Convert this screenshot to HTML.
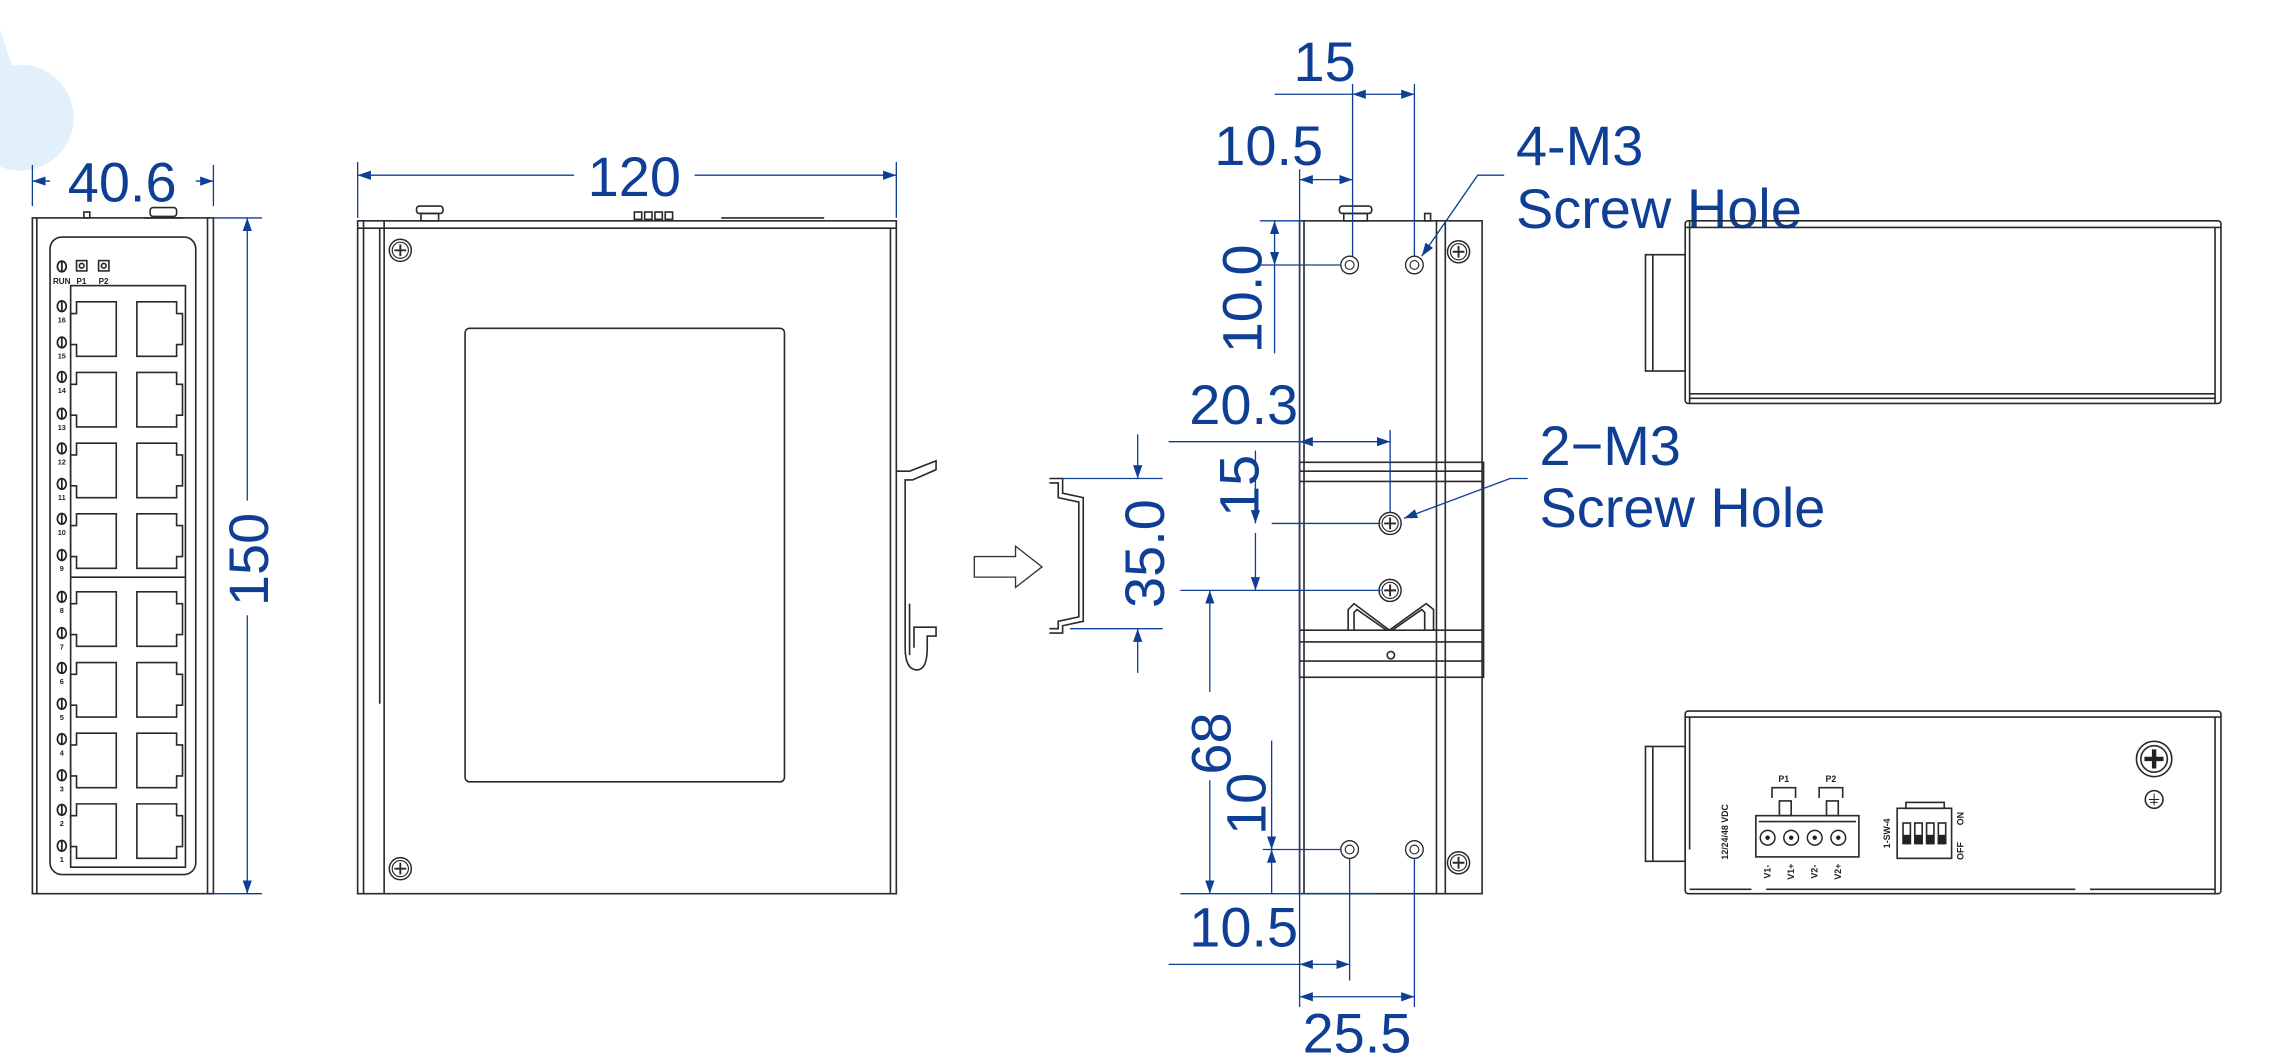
<!DOCTYPE html>
<html><head><meta charset="utf-8"><style>
html,body{margin:0;padding:0;background:#fff;}
svg{display:block;}
.d{stroke:#0f3f95;stroke-width:0.9;fill:none;}
.t{fill:#0f3f95;font-family:"Liberation Sans",sans-serif;font-size:38px;}
.k{stroke:#2a2a2a;stroke-width:1.1;fill:none;}
.s{font-family:"Liberation Sans",sans-serif;fill:#222;font-weight:bold;}
</style></head><body>
<svg width="2296" height="1063" viewBox="0 0 1560 722" preserveAspectRatio="none" xmlns="http://www.w3.org/2000/svg">
<defs>
<marker id="a" viewBox="0 0 10 10" refX="10" refY="5" markerWidth="9" markerHeight="9" markerUnits="userSpaceOnUse" orient="auto-start-reverse"><path d="M0,1.5 L10,5 L0,8.5 Z" fill="#0f3f95"/></marker>
<g id="scr"><circle r="7.5" fill="#fff" stroke="#2a2a2a" stroke-width="1"/><circle r="5.5" fill="none" stroke="#2a2a2a" stroke-width="0.8"/><path d="M-4,0 H4 M0,-4 V4" stroke="#2a2a2a" stroke-width="1.3"/></g>
<g id="hole"><circle r="6" fill="#fff" stroke="#2a2a2a" stroke-width="0.9"/><circle r="3" fill="none" stroke="#2a2a2a" stroke-width="0.8"/></g>
<g id="pl"><path d="M52,0 H79 V37 H52 V29 H48 V8 H52 Z" class="k" stroke-width="0.9"/></g>
<g id="pr"><path d="M93,0 H120 V8 H124 V29 H120 V37 H93 Z" class="k" stroke-width="0.9"/></g>
<g id="led"><ellipse rx="3" ry="3.6" fill="#fff" stroke="#222" stroke-width="1.2"/><line x1="0" y1="-3.5" x2="0" y2="3.5" stroke="#222" stroke-width="1.2"/></g>
</defs>

<!-- decorative circle -->
<circle cx="14" cy="80" r="36" fill="#e1f0fb"/>
<path d="M0,20 L10,50 L0,60 Z" fill="#e1f0fb"/>

<!-- ===== FRONT VIEW ===== -->
<rect x="22" y="148" width="123" height="459" class="k"/>
<line x1="25" y1="148" x2="25" y2="607" class="k" stroke-width="0.7"/>
<line x1="141" y1="148" x2="141" y2="607" class="k"/>
<rect x="34" y="161" width="99" height="433" rx="8" class="k"/>
<rect x="48" y="194" width="78" height="395" class="k"/>
<line x1="48" y1="392" x2="126" y2="392" class="k" stroke-width="0.7"/>
<rect x="57" y="144" width="4" height="4" class="k" stroke-width="0.8"/>
<rect x="102" y="141" width="18" height="6" rx="2" class="k"/>
<line x1="98" y1="148" x2="124" y2="148" class="k"/>
<use href="#led" x="42" y="181"/>
<rect x="52" y="177" width="7" height="7" class="k" stroke-width="0.8"/><circle cx="55.5" cy="180.5" r="1.6" class="k" stroke-width="0.6"/>
<rect x="67" y="177" width="7" height="7" class="k" stroke-width="0.8"/><circle cx="70.5" cy="180.5" r="1.6" class="k" stroke-width="0.6"/>
<text x="36" y="193" class="s" font-size="5.5">RUN</text><text x="52" y="193" class="s" font-size="5.5">P1</text><text x="67" y="193" class="s" font-size="5.5">P2</text>
<g>
<use href="#pl" y="205"/><use href="#pr" y="205"/>
<use href="#pl" y="253"/><use href="#pr" y="253"/>
<use href="#pl" y="301"/><use href="#pr" y="301"/>
<use href="#pl" y="349"/><use href="#pr" y="349"/>
<use href="#pl" y="402"/><use href="#pr" y="402"/>
<use href="#pl" y="450"/><use href="#pr" y="450"/>
<use href="#pl" y="498"/><use href="#pr" y="498"/>
<use href="#pl" y="546"/><use href="#pr" y="546"/>
</g>
<g class="s" font-size="5" text-anchor="middle">
<use href="#led" x="42" y="208"/><text x="42" y="219">16</text>
<use href="#led" x="42" y="232.6"/><text x="42" y="243.6">15</text>
<use href="#led" x="42" y="256"/><text x="42" y="267">14</text>
<use href="#led" x="42" y="281"/><text x="42" y="292">13</text>
<use href="#led" x="42" y="304.6"/><text x="42" y="315.6">12</text>
<use href="#led" x="42" y="328.7"/><text x="42" y="339.7">11</text>
<use href="#led" x="42" y="352.4"/><text x="42" y="363.4">10</text>
<use href="#led" x="42" y="377"/><text x="42" y="388">9</text>
<use href="#led" x="42" y="405.4"/><text x="42" y="416.4">8</text>
<use href="#led" x="42" y="430"/><text x="42" y="441">7</text>
<use href="#led" x="42" y="453.7"/><text x="42" y="464.7">6</text>
<use href="#led" x="42" y="478"/><text x="42" y="489">5</text>
<use href="#led" x="42" y="502"/><text x="42" y="513">4</text>
<use href="#led" x="42" y="526.6"/><text x="42" y="537.6">3</text>
<use href="#led" x="42" y="550"/><text x="42" y="561">2</text>
<use href="#led" x="42" y="574.5"/><text x="42" y="585.5">1</text>
</g>
<!-- 40.6 -->
<line x1="22" y1="112" x2="22" y2="140" class="d"/>
<line x1="145" y1="112" x2="145" y2="140" class="d"/>
<line x1="34" y1="123" x2="22" y2="123" class="d" marker-end="url(#a)"/>
<line x1="133" y1="123" x2="145" y2="123" class="d" marker-end="url(#a)"/>
<text x="83" y="137" class="t" text-anchor="middle">40.6</text>
<!-- 150 -->
<line x1="145" y1="148" x2="178" y2="148" class="d"/>
<line x1="145" y1="607" x2="178" y2="607" class="d"/>
<line x1="168" y1="340" x2="168" y2="148" class="d" marker-end="url(#a)"/>
<line x1="168" y1="418" x2="168" y2="607" class="d" marker-end="url(#a)"/>
<text transform="translate(182,380) rotate(-90)" class="t" text-anchor="middle">150</text>

<!-- ===== SIDE VIEW ===== -->
<rect x="243" y="150" width="366" height="457" class="k"/>
<line x1="243" y1="155" x2="609" y2="155" class="k" stroke-width="0.7"/>
<line x1="247" y1="150" x2="247" y2="607" class="k" stroke-width="0.7"/>
<line x1="261" y1="150" x2="261" y2="607" class="k"/>
<line x1="258" y1="155" x2="258" y2="478" class="k" stroke-width="0.7"/>
<line x1="605" y1="155" x2="605" y2="607" class="k" stroke-width="0.7"/>
<use href="#scr" x="272" y="170"/><use href="#scr" x="272" y="590"/>
<rect x="316" y="223" width="217" height="308" rx="3" class="k"/>
<rect x="283" y="140" width="18" height="5" rx="2" class="k"/><rect x="286" y="145" width="12" height="5" class="k" stroke-width="0.7"/>
<rect x="431" y="144" width="5" height="5" class="k" stroke-width="0.7"/><rect x="438" y="144" width="5" height="5" class="k" stroke-width="0.7"/><rect x="445" y="144" width="5" height="5" class="k" stroke-width="0.7"/><rect x="452" y="144" width="5" height="5" class="k" stroke-width="0.7"/>
<line x1="490" y1="148" x2="560" y2="148" class="k" stroke-width="1.6"/>
<path d="M609,320 H618 L636,313 V319 L620,326 H615 V420" class="k" stroke-width="0.9"/>
<path d="M615,420 V440 Q615,455 623,455 Q630,455 630,440 V432 H636 V426 H621 V440" class="k" stroke-width="0.9"/>
<line x1="618" y1="410" x2="618" y2="445" class="k" stroke-width="0.8"/>
<!-- 120 -->
<line x1="243" y1="110" x2="243" y2="148" class="d"/>
<line x1="609" y1="110" x2="609" y2="148" class="d"/>
<line x1="390" y1="119" x2="243" y2="119" class="d" marker-end="url(#a)"/>
<line x1="472" y1="119" x2="609" y2="119" class="d" marker-end="url(#a)"/>
<text x="431" y="133" class="t" text-anchor="middle">120</text>

<!-- hollow arrow -->
<path d="M662,378 H690 V371 L708,385 L690,399 V392 H662 Z" fill="#fff" stroke="#333" stroke-width="0.9"/>
<!-- DIN rail profile -->
<path d="M713,325 H722 V335 L736,338 V422 L722,425 V430 H713" class="k"/>
<path d="M713,328 H719 V338 L733,341 V419 L719,422 V427 H713" class="k" stroke-width="0.7"/>
<!-- 35.0 -->
<line x1="722" y1="325" x2="790" y2="325" class="d"/>
<line x1="727" y1="427" x2="790" y2="427" class="d"/>
<line x1="773" y1="295" x2="773" y2="325" class="d" marker-end="url(#a)"/>
<line x1="773" y1="457" x2="773" y2="427" class="d" marker-end="url(#a)"/>
<text transform="translate(791,376) rotate(-90)" class="t" text-anchor="middle">35.0</text>

<!-- ===== REAR VIEW ===== -->
<rect x="883" y="150" width="124" height="457" class="k"/>
<line x1="886" y1="150" x2="886" y2="607" class="k" stroke-width="0.7"/>
<line x1="976" y1="150" x2="976" y2="607" class="k" stroke-width="0.8"/>
<line x1="982" y1="150" x2="982" y2="607" class="k" stroke-width="0.8"/>
<rect x="910" y="140" width="22" height="5" rx="2" class="k"/><rect x="913" y="145" width="16" height="5" class="k" stroke-width="0.7"/>
<rect x="968" y="145" width="4" height="5" class="k" stroke-width="0.7"/>
<use href="#hole" x="917" y="180"/><use href="#hole" x="961" y="180"/>
<use href="#hole" x="917" y="577"/><use href="#hole" x="961" y="577"/>
<use href="#scr" x="991" y="171"/><use href="#scr" x="991" y="586"/>
<rect x="883" y="314" width="125" height="146" fill="#fff" class="k"/>
<line x1="883" y1="320" x2="1008" y2="320" class="k" stroke-width="0.8"/>
<line x1="883" y1="327" x2="1008" y2="327" class="k" stroke-width="0.8"/>
<line x1="883" y1="428" x2="1008" y2="428" class="k" stroke-width="0.8"/>
<line x1="883" y1="436" x2="1008" y2="436" class="k" stroke-width="0.8"/>
<line x1="883" y1="449" x2="1008" y2="449" class="k" stroke-width="0.8"/>
<path d="M916,428 V414 L920,410 L944,428 L969,410 L974,414 V428" class="k" stroke-width="0.8"/>
<path d="M920,428 V416 L922,414 L942,428 M968,428 V416 L966,414 L946,428" class="k" stroke-width="0.6"/>
<circle cx="945" cy="445" r="2.5" class="k"/>
<use href="#scr" x="944.5" y="355.5"/><use href="#scr" x="944.5" y="401"/>

<!-- rear dims -->
<line x1="883" y1="115" x2="883" y2="684" class="d"/>
<line x1="919" y1="57" x2="919" y2="174" class="d"/>
<line x1="961" y1="57" x2="961" y2="174" class="d"/>
<line x1="917" y1="583" x2="917" y2="666" class="d"/>
<line x1="961" y1="583" x2="961" y2="684" class="d"/>
<!-- 15 top -->
<line x1="866" y1="64" x2="919" y2="64" class="d"/>
<line x1="919" y1="64" x2="961" y2="64" class="d" marker-start="url(#a)" marker-end="url(#a)"/>
<text x="900" y="55" class="t" text-anchor="middle">15</text>
<!-- 10.5 top -->
<line x1="883" y1="122" x2="919" y2="122" class="d" marker-start="url(#a)" marker-end="url(#a)"/>
<text x="862" y="112" class="t" text-anchor="middle">10.5</text>
<!-- 10.0 -->
<line x1="856" y1="150" x2="885" y2="150" class="d"/>
<line x1="856" y1="180" x2="911" y2="180" class="d"/>
<line x1="866" y1="150" x2="866" y2="180" class="d" marker-start="url(#a)" marker-end="url(#a)"/>
<line x1="866" y1="180" x2="866" y2="240" class="d"/>
<text transform="translate(857,203) rotate(-90)" class="t" text-anchor="middle">10.0</text>
<!-- 20.3 -->
<line x1="794" y1="300" x2="883" y2="300" class="d"/>
<line x1="883" y1="300" x2="944.5" y2="300" class="d" marker-start="url(#a)" marker-end="url(#a)"/>
<line x1="944.5" y1="292" x2="944.5" y2="348" class="d"/>
<text x="845" y="288" class="t" text-anchor="middle">20.3</text>
<!-- 15 vertical -->
<line x1="864" y1="355.5" x2="938" y2="355.5" class="d"/>
<line x1="802" y1="401" x2="938" y2="401" class="d"/>
<line x1="853" y1="306" x2="853" y2="355.5" class="d" marker-end="url(#a)"/>
<line x1="853" y1="362" x2="853" y2="401" class="d" marker-end="url(#a)"/>
<text transform="translate(855,330) rotate(-90)" class="t" text-anchor="middle">15</text>
<!-- 68 -->
<line x1="822" y1="470" x2="822" y2="401" class="d" marker-end="url(#a)"/>
<line x1="822" y1="530" x2="822" y2="607" class="d" marker-end="url(#a)"/>
<text transform="translate(836,505) rotate(-90)" class="t" text-anchor="middle">68</text>
<!-- 10 bottom -->
<line x1="858" y1="577" x2="911" y2="577" class="d"/>
<line x1="802" y1="607" x2="935" y2="607" class="d"/>
<line x1="864" y1="503" x2="864" y2="577" class="d" marker-end="url(#a)"/>
<line x1="864" y1="577" x2="864" y2="607" class="d" marker-start="url(#a)"/>
<text transform="translate(860,546) rotate(-90)" class="t" text-anchor="middle">10</text>
<!-- 10.5 bottom -->
<line x1="794" y1="655" x2="883" y2="655" class="d"/>
<line x1="883" y1="655" x2="917" y2="655" class="d" marker-start="url(#a)" marker-end="url(#a)"/>
<text x="845" y="643" class="t" text-anchor="middle">10.5</text>
<!-- 25.5 -->
<line x1="883" y1="677" x2="961" y2="677" class="d" marker-start="url(#a)" marker-end="url(#a)"/>
<text x="922" y="715" class="t" text-anchor="middle">25.5</text>

<!-- screw hole labels -->
<polyline points="1022,119 1004,119 966,174" class="d" stroke-width="0.6" marker-end="url(#a)"/>
<text x="1030" y="112" class="t">4-M3</text>
<text x="1030" y="155" class="t">Screw Hole</text>
<polyline points="1038,325 1026,325 954,352" class="d" stroke-width="0.6" marker-end="url(#a)"/>
<text x="1046" y="316" class="t">2−M3</text>
<text x="1046" y="358" class="t">Screw Hole</text>

<!-- ===== TOP-RIGHT SIDE VIEW ===== -->
<rect x="1118" y="173" width="27" height="79" class="k"/>
<line x1="1123" y1="173" x2="1123" y2="252" class="k" stroke-width="0.7"/>
<rect x="1145" y="150" width="364" height="124" rx="2" fill="#fff" class="k"/>
<line x1="1145" y1="154.5" x2="1509" y2="154.5" class="k" stroke-width="0.7"/>
<line x1="1148" y1="150" x2="1148" y2="274" class="k" stroke-width="0.7"/>
<line x1="1505" y1="154" x2="1505" y2="274" class="k" stroke-width="0.7"/>
<line x1="1148" y1="267.5" x2="1505" y2="267.5" class="k"/>
<line x1="1148" y1="270.5" x2="1505" y2="270.5" class="k" stroke-width="0.7"/>

<!-- ===== BOTTOM-RIGHT VIEW ===== -->
<rect x="1118" y="507" width="27" height="78" class="k"/>
<line x1="1123" y1="507" x2="1123" y2="585" class="k" stroke-width="0.7"/>
<rect x="1145" y="483" width="364" height="124" rx="2" fill="#fff" class="k"/>
<line x1="1145" y1="487" x2="1509" y2="487" class="k" stroke-width="0.7"/>
<line x1="1505" y1="487" x2="1505" y2="607" class="k" stroke-width="0.7"/>
<line x1="1148" y1="487" x2="1148" y2="577" class="k" stroke-width="0.7"/>
<path d="M1148,604 H1190 M1200,604 H1410 M1420,604 H1505" class="k" stroke-width="0.8"/>
<circle cx="1463.6" cy="515.5" r="12" class="k"/><circle cx="1463.6" cy="515.5" r="9" class="k" stroke-width="0.8"/>
<path d="M1457,515.5 H1470 M1463.6,509 V522" stroke="#222" stroke-width="3"/>
<circle cx="1463.6" cy="543" r="6" class="k" stroke-width="0.9"/>
<path d="M1463.6,539 V547 M1460,543 H1467 M1461,545 H1466" stroke="#222" stroke-width="0.7"/>
<text transform="translate(1174,565) rotate(-90)" class="s" font-size="6" text-anchor="middle">12/24/48 VDC</text>
<text x="1212" y="531" class="s" font-size="6" text-anchor="middle">P1</text>
<text x="1244" y="531" class="s" font-size="6" text-anchor="middle">P2</text>
<path d="M1204,542 V535 H1220 V542 M1236,542 V535 H1252 V542" class="k" stroke-width="0.7"/>
<rect x="1209" y="544" width="8" height="10" class="k" stroke-width="0.8"/>
<rect x="1241" y="544" width="8" height="10" class="k" stroke-width="0.8"/>
<rect x="1193" y="554" width="70" height="28" class="k" stroke-width="1.4"/>
<line x1="1195" y1="558" x2="1261" y2="558" class="k" stroke-width="1.2"/>
<g fill="#fff" stroke="#222" stroke-width="1">
<circle cx="1201" cy="569" r="5"/><circle cx="1217" cy="569" r="5"/><circle cx="1233" cy="569" r="5"/><circle cx="1249" cy="569" r="5"/>
</g>
<g fill="#222"><circle cx="1201" cy="569" r="1.5"/><circle cx="1217" cy="569" r="1.5"/><circle cx="1233" cy="569" r="1.5"/><circle cx="1249" cy="569" r="1.5"/></g>
<g class="s" font-size="6" text-anchor="middle">
<text transform="translate(1203,592) rotate(-90)">V1-</text>
<text transform="translate(1219,592) rotate(-90)">V1+</text>
<text transform="translate(1235,592) rotate(-90)">V2-</text>
<text transform="translate(1251,592) rotate(-90)">V2+</text>
<text transform="translate(1284,566) rotate(-90)">1-SW-4</text>
<text transform="translate(1334,556) rotate(-90)">ON</text>
<text transform="translate(1334,578) rotate(-90)">OFF</text>
</g>
<rect x="1295" y="545" width="26" height="4" class="k" stroke-width="0.7"/>
<rect x="1289" y="549" width="37" height="34" class="k" stroke-width="1.3"/>
<g class="k" stroke-width="0.9"><rect x="1293" y="559" width="5" height="14"/><rect x="1301" y="559" width="5" height="14"/><rect x="1309" y="559" width="5" height="14"/><rect x="1317" y="559" width="5" height="14"/></g>
<g fill="#222"><rect x="1293" y="567" width="5" height="6"/><rect x="1301" y="567" width="5" height="6"/><rect x="1309" y="567" width="5" height="6"/><rect x="1317" y="567" width="5" height="6"/></g>
</svg>
</body></html>
